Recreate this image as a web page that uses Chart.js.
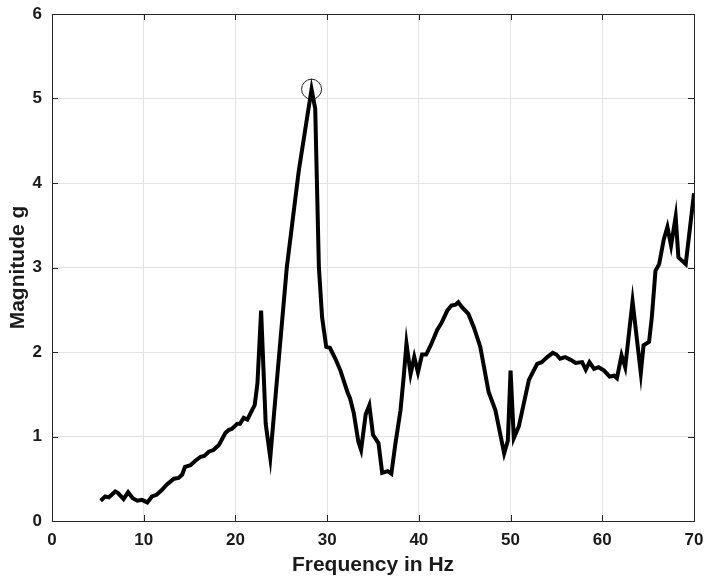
<!DOCTYPE html>
<html>
<head>
<meta charset="utf-8">
<script src="https://cdn.jsdelivr.net/npm/chart.js@4/dist/chart.umd.min.js"></script>
<style>
  html, body { margin: 0; padding: 0; background: #fff; }
  canvas { display: block; }
</style>
</head>
<body>
<canvas id="chart" width="705" height="581"></canvas>
<script>
// values
const freqHz = [
  5.3, 5.8, 6.2, 6.9, 7.2, 7.8, 8.3, 8.8, 9.3, 9.8,
  10.4, 10.9, 11.4, 12.0, 12.5, 13.3, 13.8, 14.2, 14.5, 15.1,
  15.6, 16.2, 16.6, 17.1, 17.6, 18.2, 18.9, 19.3, 19.6, 20.2,
  20.5, 20.9, 21.3, 21.8, 22.1, 22.4, 22.8, 23.3, 23.8, 24.4,
  25.6, 26.9, 28.3, 28.7, 29.1, 29.45, 29.9, 30.3, 30.9, 31.45,
  32.2, 32.5, 32.9, 33.4, 33.7, 34.2, 34.6, 35.0, 35.6, 36.0,
  36.6, 37.0, 37.45, 38.0, 38.35, 38.65, 39.1, 39.5, 39.9, 40.35,
  40.8, 41.3, 42.0, 42.5, 43.1, 43.55, 44.0, 44.3, 44.7, 45.4,
  46.0, 46.7, 47.6, 48.35, 49.3, 49.7, 50.0, 50.35, 50.9, 52.0,
  52.9, 53.4, 54.0, 54.6, 55.0, 55.4, 55.95, 56.5, 57.1, 57.8,
  58.2, 58.6, 59.1, 59.6, 60.2, 60.8, 61.3, 61.6, 62.1, 62.5,
  63.3, 64.2, 64.5, 65.1, 65.4, 65.8, 66.2, 66.7, 67.1, 67.5,
  68.0, 68.3, 69.1, 70.0
];
const magnitude = [
  0.24, 0.29, 0.28, 0.35, 0.33, 0.26, 0.34, 0.27, 0.24, 0.25,
  0.22, 0.29, 0.31, 0.37, 0.43, 0.50, 0.51, 0.55, 0.64, 0.66,
  0.71, 0.76, 0.77, 0.82, 0.84, 0.90, 1.04, 1.08, 1.09, 1.15,
  1.15, 1.22, 1.20, 1.31, 1.37, 1.63, 2.49, 1.15, 0.75, 1.51,
  3.00, 4.14, 5.11, 4.88, 3.00, 2.41, 2.06, 2.05, 1.92, 1.78,
  1.53, 1.45, 1.28, 0.94, 0.84, 1.26, 1.37, 1.02, 0.92, 0.57,
  0.59, 0.56, 0.92, 1.31, 1.71, 2.10, 1.74, 1.94, 1.76, 1.97,
  1.97, 2.08, 2.26, 2.35, 2.49, 2.55, 2.56, 2.59, 2.53, 2.45,
  2.29, 2.06, 1.53, 1.31, 0.80, 0.95, 1.78, 0.98, 1.12, 1.67,
  1.86, 1.88, 1.94, 1.99, 1.97, 1.92, 1.94, 1.91, 1.87, 1.88,
  1.79, 1.88, 1.80, 1.82, 1.78, 1.71, 1.72, 1.69, 1.96, 1.82,
  2.60, 1.75, 2.08, 2.12, 2.41, 2.96, 3.04, 3.33, 3.48, 3.26,
  3.60, 3.12, 3.04, 3.88
];
const peakFreq = 28.3;
const peakMag = 5.11;
const xTicks = [0, 10, 20, 30, 40, 50, 60, 70];
const yTicks = [0, 1, 2, 3, 4, 5, 6];

const tickFont = { family: 'Liberation Sans, Arial, sans-serif', size: 17, weight: 'bold' };
const titleFont = { family: 'Liberation Sans, Arial, sans-serif', size: 21, weight: 'bold' };

// box around the plot + inward tick marks, matlab style
const boxPlugin = {
  id: 'box',
  afterDatasetsDraw(chart) {
    const { ctx, chartArea: a, scales } = chart;
    ctx.save();
    ctx.strokeStyle = '#262626';
    ctx.lineWidth = 1;
    ctx.beginPath();
    xTicks.forEach(v => {
      const px = Math.round(scales.x.getPixelForValue(v)) + 0.5;
      ctx.moveTo(px, a.bottom); ctx.lineTo(px, a.bottom - 6);
      ctx.moveTo(px, a.top); ctx.lineTo(px, a.top + 6);
    });
    yTicks.forEach(v => {
      const py = Math.round(scales.y.getPixelForValue(v)) + 0.5;
      ctx.moveTo(a.left, py); ctx.lineTo(a.left + 6, py);
      ctx.moveTo(a.right, py); ctx.lineTo(a.right - 6, py);
    });
    ctx.stroke();
    ctx.strokeRect(Math.round(a.left) + 0.5, Math.round(a.top) + 0.5,
      Math.round(a.right - a.left), Math.round(a.bottom - a.top));
    ctx.restore();
  }
};

new Chart(document.getElementById('chart'), {
  type: 'line',
  data: {
    datasets: [{
      data: freqHz.map((f, i) => ({ x: f, y: magnitude[i] })),
      borderColor: '#000',
      borderWidth: 4,
      pointRadius: 0,
      tension: 0
    }, {
      data: [{ x: peakFreq, y: peakMag }],
      showLine: false,
      pointRadius: 10,
      pointBorderWidth: 1,
      pointBorderColor: '#222',
      pointBackgroundColor: 'rgba(0,0,0,0)'
    }]
  },
  options: {
    responsive: false,
    animation: false,
    devicePixelRatio: 1,
    layout: { padding: { left: 0, right: 9, top: 14, bottom: 0 } },
    plugins: { legend: { display: false }, tooltip: { enabled: false } },
    scales: {
      x: {
        type: 'linear',
        min: 0, max: 70,
        afterBuildTicks: s => { s.ticks = xTicks.map(v => ({ value: v })); },
        afterFit: s => { s.height = 60; s.paddingLeft = 0; s.paddingRight = 0; },
        grid: { color: '#e3e3e3', drawTicks: false },
        border: { display: false },
        ticks: { font: tickFont, color: '#1a1a1a', padding: 9, maxRotation: 0 },
        title: { display: true, text: 'Frequency in Hz', font: titleFont, color: '#1a1a1a', padding: { top: 0, bottom: 3 } }
      },
      y: {
        min: 0, max: 6,
        afterBuildTicks: s => { s.ticks = yTicks.map(v => ({ value: v })); },
        afterFit: s => { s.width = 52; s.paddingTop = 0; s.paddingBottom = 0; },
        grid: { color: '#e3e3e3', drawTicks: false },
        border: { display: false },
        ticks: { font: tickFont, color: '#1a1a1a', padding: 10 },
        title: { display: true, text: 'Magnitude g', font: titleFont, color: '#1a1a1a', padding: { top: 6, bottom: 0 } }
      }
    }
  },
  plugins: [boxPlugin]
});
</script>
</body>
</html>
